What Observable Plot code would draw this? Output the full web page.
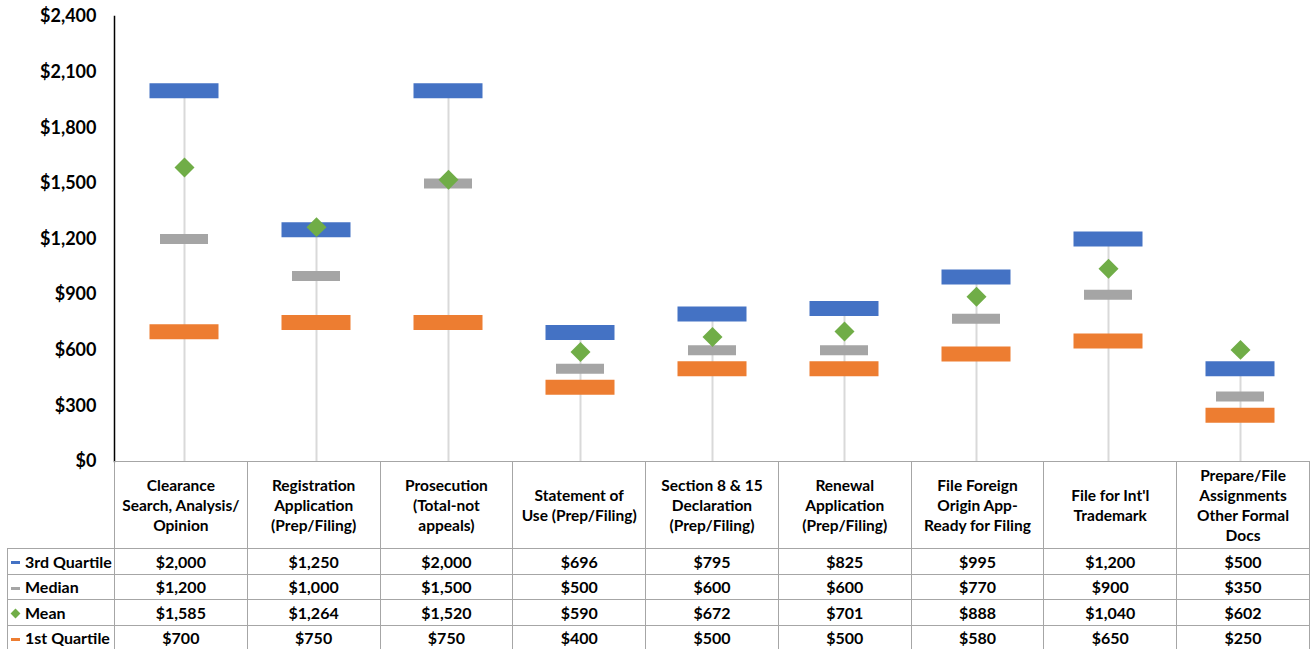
<!DOCTYPE html>
<html>
<head>
<meta charset="utf-8">
<script src="https://cdn.jsdelivr.net/npm/d3@7"></script>
<script src="https://cdn.jsdelivr.net/npm/@observablehq/plot@0.6"></script>
<style>
  body { margin: 0; background: #fff; font-family: Lato, "Open Sans", sans-serif; }
  #wrap { position: relative; width: 1310px; height: 649px; overflow: hidden; }
  #chart { position: absolute; left: 0; top: 0; }
  #tbl { position: absolute; left: 7px; top: 461px; border-collapse: collapse; table-layout: fixed; font-weight: bold; color: #000; background: transparent; }
  #tbl td { border: 1px solid #A6A6A6; text-align: center; vertical-align: middle; padding: 0; font-size: 15.5px; }
  #tbl tr.hdr td { height: 86px; line-height: 20px; }
  #tbl tr.row td { height: 24.5px; font-size: 16px; }
  #tbl td.blank { border: none; border-right: 1px solid #A6A6A6; }
  #tbl td.lab { text-align: left; padding-left: 3px; white-space: nowrap; font-size: 15px; }
  .sw { display: inline-block; width: 9px; height: 3px; vertical-align: middle; margin-right: 5px; position: relative; top: -1px; }
  .dia { display: inline-block; width: 7px; height: 7px; transform: rotate(45deg); vertical-align: middle; margin: 0 6px 0 1px; position: relative; top: -1px; }
</style>
</head>
<body>
<div id="wrap">
  <div id="chart"></div>
  <table id="tbl"></table>
</div>
<script>
const categories = [
  "Clearance\nSearch, Analysis/\nOpinion",
  "Registration\nApplication\n(Prep/Filing)",
  "Prosecution\n(Total-not\nappeals)",
  "Statement of\nUse (Prep/Filing)",
  "Section 8 & 15\nDeclaration\n(Prep/Filing)",
  "Renewal\nApplication\n(Prep/Filing)",
  "File Foreign\nOrigin App-\nReady for Filing",
  "File for Int'l\nTrademark",
  "Prepare/File\nAssignments\nOther Formal\nDocs"
];
const q3     = [2000, 1250, 2000, 696, 795, 825, 995, 1200, 500];
const median = [1200, 1000, 1500, 500, 600, 600, 770, 900, 350];
const mean   = [1585, 1264, 1520, 590, 672, 701, 888, 1040, 602];
const q1     = [700, 750, 750, 400, 500, 500, 580, 650, 250];
const yTicks = [0, 300, 600, 900, 1200, 1500, 1800, 2100, 2400];
const seriesNames = ["3rd Quartile", "Median", "Mean", "1st Quartile"];
const seriesColors = ["#4472C4", "#A5A5A5", "#70AD47", "#ED7D31"];

const data = categories.map((c, i) => ({cat: c, q3: q3[i], med: median[i], mean: mean[i], q1: q1[i]}));
const money = d => "$" + d3.format(",")(d);

const chart = Plot.plot({
  width: 1310,
  height: 476,
  marginTop: 16,
  marginBottom: 15,
  marginLeft: 114,
  marginRight: 0,
  style: {fontFamily: "Lato, 'Open Sans', sans-serif", fontWeight: "bold", fontSize: "18px", color: "#000", background: "transparent"},
  x: {domain: categories, padding: 0, axis: null},
  y: {domain: [0, 2400], axis: null},
  marks: [
    Plot.ruleX(data, {x: "cat", y1: 0, y2: "q3", stroke: "#D9D9D9", strokeWidth: 2}),
    Plot.tickY(data, {x: "cat", y: "q3", stroke: seriesColors[0], strokeWidth: 15, insetLeft: 31.5, insetRight: 31.5}),
    Plot.tickY(data, {x: "cat", y: "med", stroke: seriesColors[1], strokeWidth: 10, insetLeft: 42, insetRight: 42}),
    Plot.tickY(data, {x: "cat", y: "q1", stroke: seriesColors[3], strokeWidth: 15, insetLeft: 31.5, insetRight: 31.5}),
    Plot.dot(data, {x: "cat", y: "mean", symbol: "diamond2", r: 9, fill: seriesColors[2], stroke: "none"}),
    Plot.axisY({ticks: yTicks, tickFormat: money, tickSize: 0, tickPadding: 18, fontSize: 18, fontWeight: "bold", anchor: "left"}),
    Plot.frame({anchor: "left", stroke: "#000", strokeWidth: 1.5})
  ]
});
document.getElementById("chart").appendChild(chart);

// data table
const tbl = document.getElementById("tbl");
const colW = (1310 - 114) / categories.length;
let cg = "<colgroup><col style='width:107px'>" + categories.map(() => `<col style='width:${colW}px'>`).join("") + "</colgroup>";
let html = cg + "<tr class='hdr'><td class='blank'></td>" +
  categories.map(c => "<td>" + c.split("\n").join("<br>") + "</td>").join("") + "</tr>";
const rows = [q3, median, mean, q1];
rows.forEach((vals, k) => {
  const sym = k === 2
    ? `<span class='dia' style='background:${seriesColors[k]}'></span>`
    : `<span class='sw' style='background:${seriesColors[k]}'></span>`;
  html += "<tr class='row'><td class='lab'>" + sym + seriesNames[k] + "</td>" +
    vals.map(v => "<td>" + money(v) + "</td>").join("") + "</tr>";
});
tbl.innerHTML = html;
</script>
</body>
</html>
